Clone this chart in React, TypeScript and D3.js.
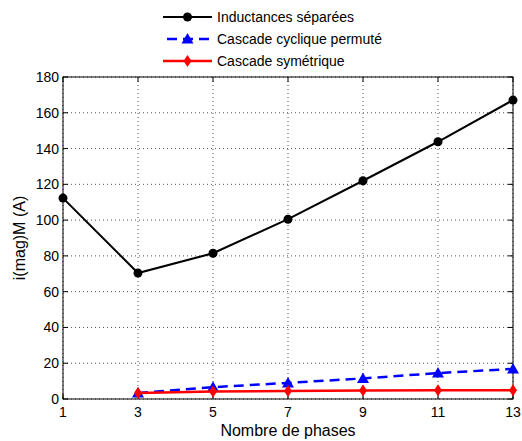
import React from "react";
import * as d3 from "d3";

const phases = [1, 3, 5, 7, 9, 11, 13];
const inductancesX = [1, 3, 5, 7, 9, 11, 13];
const inductancesY = [112.3, 70.4, 81.5, 100.5, 122, 143.8, 167.1];
const cycliqueX = [3, 5, 7, 9, 11, 13];
const cycliqueY = [3.4, 6.6, 9, 11.5, 14.5, 16.8];
const symetriqueX = [3, 5, 7, 9, 11, 13];
const symetriqueY = [3.3, 4.2, 4.5, 4.7, 4.9, 4.9];
const yTicks = [0, 20, 40, 60, 80, 100, 120, 140, 160, 180];
const legendLabels = ["Inductances séparées", "Cascade cyclique permuté", "Cascade symétrique"];

const W = 522, H = 441;
const L = 63, R = 513, T = 77, B = 399;
const font = "'Liberation Sans', Arial, sans-serif";

export default function App() {
  const x = d3.scaleLinear().domain([1, 13]).range([L, R]);
  const y = d3.scaleLinear().domain([0, 180]).range([B, T]);
  const line = (xs: number[], ys: number[]) =>
    d3.line<number>().x((_, i) => x(xs[i])).y((d) => y(d))(ys) as string;

  const circle = (cx: number, cy: number, k: string, r = 4.5) => (
    <circle key={k} cx={cx} cy={cy} r={r} fill="black" />
  );
  const tri = (cx: number, cy: number, k: string, s = 6) => (
    <path key={k} d={`M${cx},${cy - s}L${cx + s},${cy + s * 0.75}L${cx - s},${cy + s * 0.75}Z`} fill="blue" />
  );
  const diamond = (cx: number, cy: number, k: string) => (
    <path key={k} d={`M${cx},${cy - 6}L${cx + 4},${cy}L${cx},${cy + 6}L${cx - 4},${cy}Z`} fill="red" />
  );

  const legendY = [17, 39, 61];
  const lx1 = 163, lx2 = 212, lm = (lx1 + lx2) / 2;

  return (
    <svg width={W} height={H} style={{ position: "absolute", left: 0, top: 0, background: "white" }} fontFamily={font}>
      <rect x={0} y={0} width={W} height={H} fill="white" />
      {/* grid */}
      {phases.map((p) => (
        <line key={"gx" + p} x1={x(p)} x2={x(p)} y1={T} y2={B} stroke="#555" strokeWidth={1} strokeDasharray="1,3" />
      ))}
      {yTicks.map((t) => (
        <line key={"gy" + t} x1={L} x2={R} y1={y(t)} y2={y(t)} stroke="#555" strokeWidth={1} strokeDasharray="1,3" />
      ))}
      {/* box */}
      <rect x={L} y={T} width={R - L} height={B - T} fill="none" stroke="black" strokeWidth={1} />
      {/* ticks */}
      {phases.map((p) => (
        <g key={"tx" + p}>
          <line x1={x(p)} x2={x(p)} y1={B} y2={B - 5} stroke="black" />
          <line x1={x(p)} x2={x(p)} y1={T} y2={T + 5} stroke="black" />
          <text x={x(p)} y={B + 18} fontSize={14} textAnchor="middle" fill="black">{p}</text>
        </g>
      ))}
      {yTicks.map((t) => (
        <g key={"ty" + t}>
          <line x1={L} x2={L + 5} y1={y(t)} y2={y(t)} stroke="black" />
          <line x1={R} x2={R - 5} y1={y(t)} y2={y(t)} stroke="black" />
          <text x={L - 4} y={y(t) + 5} fontSize={14} textAnchor="end" fill="black">{t}</text>
        </g>
      ))}
      <text x={(L + R) / 2} y={436} fontSize={16} textAnchor="middle" fill="black">Nombre de phases</text>
      <text transform={`translate(25,${(T + B) / 2}) rotate(-90)`} fontSize={16} textAnchor="middle" fill="black">i(mag)M (A)</text>
      {/* series */}
      <path d={line(inductancesX, inductancesY)} fill="none" stroke="black" strokeWidth={2} />
      {inductancesX.map((p, i) => circle(x(p), y(inductancesY[i]), "c" + i))}
      <path d={line(cycliqueX, cycliqueY)} fill="none" stroke="blue" strokeWidth={2.5} strokeDasharray="10,6" />
      {cycliqueX.map((p, i) => tri(x(p), y(cycliqueY[i]), "t" + i))}
      <path d={line(symetriqueX, symetriqueY)} fill="none" stroke="red" strokeWidth={2.5} />
      {symetriqueX.map((p, i) => diamond(x(p), y(symetriqueY[i]), "d" + i))}
      {/* legend */}
      <line x1={lx1} x2={lx2} y1={legendY[0]} y2={legendY[0]} stroke="black" strokeWidth={2} />
      {circle(lm, legendY[0], "lc")}
      <line x1={lx1 + 4} x2={lx2} y1={legendY[1]} y2={legendY[1]} stroke="blue" strokeWidth={2.5} strokeDasharray="10,6" />
      {tri(lm, legendY[1], "lt")}
      <line x1={lx1} x2={lx2} y1={legendY[2]} y2={legendY[2]} stroke="red" strokeWidth={2.5} />
      {diamond(lm, legendY[2], "ld")}
      {legendLabels.map((s, i) => (
        <text key={"l" + i} x={217} y={legendY[i] + 5} fontSize={14} fill="black">{s}</text>
      ))}
    </svg>
  );
}
